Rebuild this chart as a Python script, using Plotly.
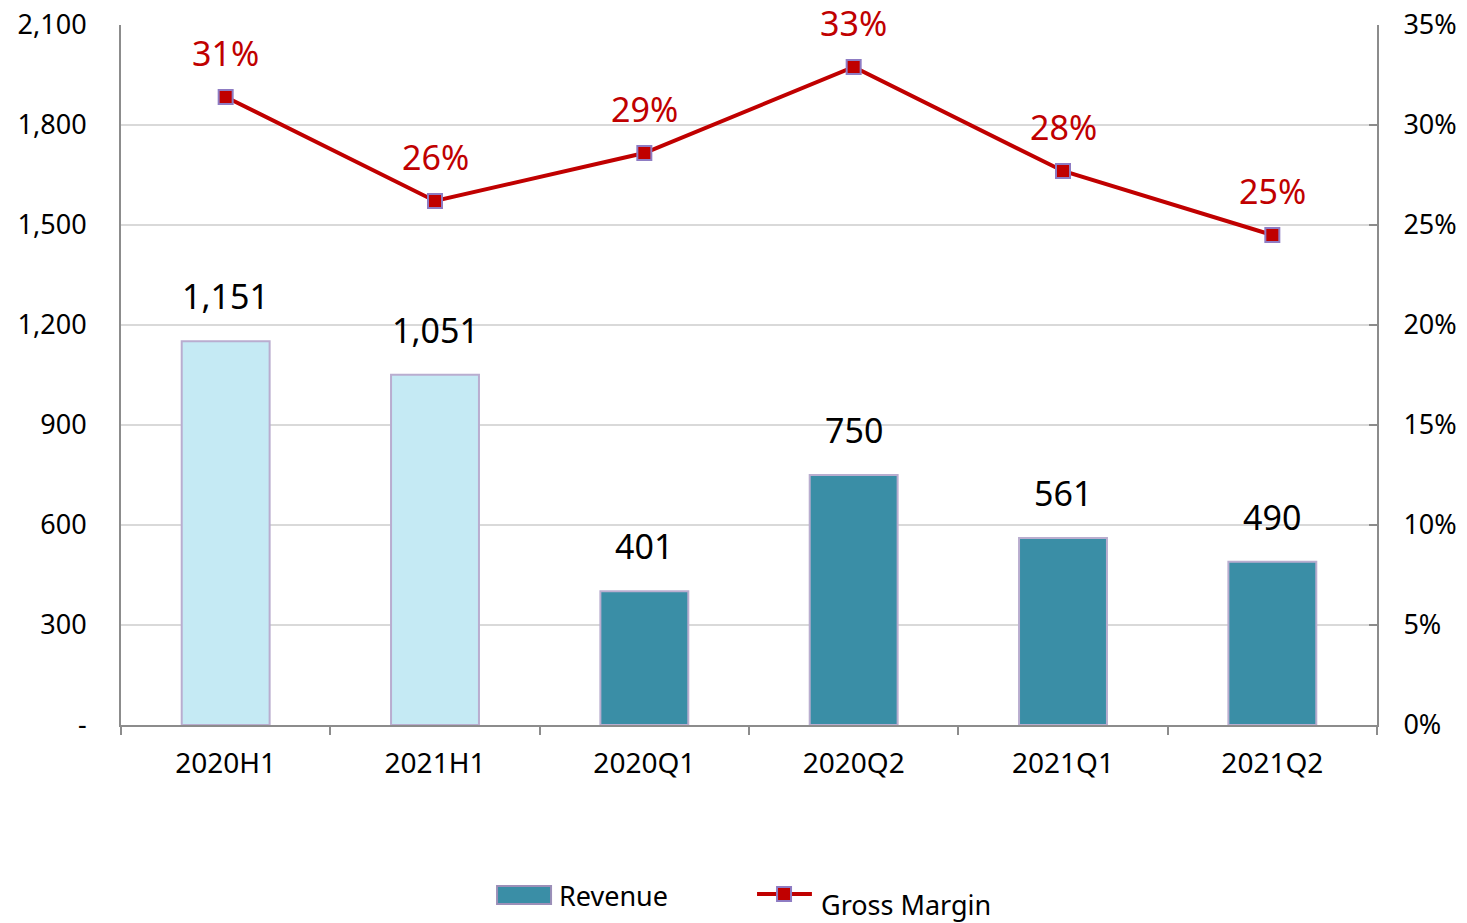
import plotly.graph_objects as go

categories = ["2020H1", "2021H1", "2020Q1", "2020Q2", "2021Q1", "2021Q2"]
revenue = [1151, 1051, 401, 750, 561, 490]
revenue_labels = ["1,151", "1,051", "401", "750", "561", "490"]
gross_margin = [31.4, 26.2, 28.6, 32.9, 27.7, 24.5]
gm_labels = ["31%", "26%", "29%", "33%", "28%", "25%"]
bar_colors = ["#C5EAF4", "#C5EAF4", "#3A8EA6", "#3A8EA6", "#3A8EA6", "#3A8EA6"]
left_ticks = [0, 300, 600, 900, 1200, 1500, 1800, 2100]
left_ticktext = ["-", "300", "600", "900", "1,200", "1,500", "1,800", "2,100"]
right_ticks = [0, 5, 10, 15, 20, 25, 30, 35]
right_ticktext = ["0%", "5%", "10%", "15%", "20%", "25%", "30%", "35%"]

FONT = "Noto Sans"
RED = "#C00000"

fig = go.Figure()
fig.add_trace(go.Bar(
    x=categories, y=revenue, name="Revenue",
    marker=dict(color=bar_colors, line=dict(color="#B9ADCF", width=2)),
    width=0.42, showlegend=False,
))
fig.add_trace(go.Scatter(
    x=categories, y=gross_margin, name="Gross Margin", yaxis="y2",
    mode="lines+markers",
    line=dict(color=RED, width=4),
    marker=dict(symbol="square", size=14, color=RED,
                line=dict(color="#8E7CC3", width=2)),
    showlegend=False,
))

annotations = []
for c, v, t in zip(categories, revenue, revenue_labels):
    annotations.append(dict(x=c, y=v, text=t, showarrow=False, yref="y",
                            yshift=45, font=dict(family=FONT, size=34, color="#000000")))
for c, v, t in zip(categories, gross_margin, gm_labels):
    annotations.append(dict(x=c, y=v, text=t, showarrow=False, yref="y2",
                            yshift=44, font=dict(family=FONT, size=34, color=RED)))

# custom legend (paper coordinates)
annotations.append(dict(xref="paper", yref="paper", x=0.3475, y=-0.2429, xanchor="left",
                        yanchor="middle", text="Revenue", showarrow=False,
                        font=dict(family=FONT, size=27, color="#000000")))
annotations.append(dict(xref="paper", yref="paper", x=0.5557, y=-0.2571, xanchor="left",
                        yanchor="middle", text="Gross Margin", showarrow=False,
                        font=dict(family=FONT, size=27, color="#000000")))
shapes = [
    dict(type="rect", xref="paper", yref="paper", x0=0.2994, x1=0.3424, y0=-0.2557, y1=-0.23,
         fillcolor="#3A8EA6", line=dict(color="#9C8FB8", width=2)),
    dict(type="line", xref="paper", yref="paper", x0=0.5064, x1=0.5501, y0=-0.2414, y1=-0.2414,
         line=dict(color=RED, width=4)),
    dict(type="rect", xref="paper", yref="paper", xsizemode="pixel", ysizemode="pixel",
         xanchor=0.5279, yanchor=-0.2414, x0=-7, x1=7, y0=-7, y1=7,
         fillcolor=RED, line=dict(color="#8E7CC3", width=2)),
]

fig.update_layout(
    width=1467, height=923,
    margin=dict(l=121, r=90, t=25, b=198),
    paper_bgcolor="white", plot_bgcolor="white",
    font=dict(family=FONT, size=26, color="#000000"),
    bargap=0.58,
    annotations=annotations,
    shapes=shapes,
    showlegend=False,
    xaxis=dict(
        showline=True, linecolor="#8C8C8C", linewidth=2,
        ticks="outside", tickson="boundaries", ticklen=8, tickcolor="#8C8C8C", tickwidth=2,
        tickfont=dict(family=FONT, size=28), showgrid=False, automargin=False,
        ticklabelstandoff=12,
    ),
    yaxis=dict(
        range=[0, 2100], tickvals=left_ticks, ticktext=left_ticktext,
        showline=True, linecolor="#8C8C8C", linewidth=2,
        ticks="",
        showgrid=True, gridcolor="#D9D9D9", gridwidth=1.5,
        zeroline=False, tickfont=dict(family=FONT, size=27),
        ticklabelstandoff=27, automargin=False, ticklabeloverflow="allow",
    ),
    yaxis2=dict(
        range=[0, 35], tickvals=right_ticks, ticktext=right_ticktext,
        overlaying="y", side="right",
        showline=True, linecolor="#8C8C8C", linewidth=2,
        ticks="inside", ticklen=8, tickcolor="#8C8C8C", tickwidth=2,
        showgrid=False, zeroline=False, tickfont=dict(family=FONT, size=27),
        ticklabelstandoff=19, automargin=False, ticklabeloverflow="allow",
    ),
)

fig.write_html("out.html", config={"displayModeBar": False},
               post_script="document.body.style.margin='0';")
